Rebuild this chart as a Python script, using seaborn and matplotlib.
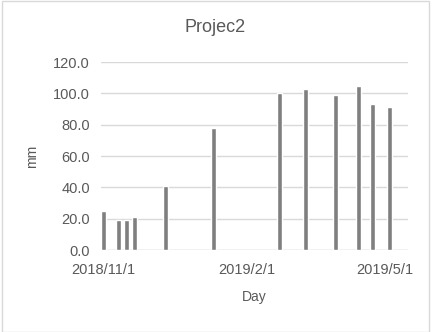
import matplotlib
matplotlib.use("Agg")
import matplotlib.pyplot as plt
import matplotlib.dates as mdates
import seaborn as sns
import pandas as pd
import datetime as dt

# Data
dates = ["2018-11-01", "2018-11-11", "2018-11-16", "2018-11-21", "2018-12-11",
         "2019-01-11", "2019-02-22", "2019-03-11", "2019-03-30", "2019-04-14",
         "2019-04-23", "2019-05-04"]
values = [25, 19, 19, 21, 41, 78, 100, 102.5, 99, 105, 93.5, 91.5]
y_ticks = [0, 20, 40, 60, 80, 100, 120]
x_tick_dates = ["2018-11-01", "2019-02-01", "2019-05-01"]

df = pd.DataFrame({"Day": mdates.date2num(pd.to_datetime(dates)), "mm": values})

sns.set_theme(style="white")
plt.rcParams["font.family"] = ["Liberation Sans", "DejaVu Sans"]

fig = plt.figure(figsize=(4.33, 3.32), dpi=100)
ax = fig.add_axes([101/433, 1 - 250/332, (408-101)/433, (250-62)/332])

sns.barplot(data=df, x="Day", y="mm", native_scale=True, color="#7f7f7f",
            saturation=1, width=0.62, ax=ax, errorbar=None)

x0 = mdates.date2num(dt.datetime(2018, 11, 1))
ax.set_xlim(x0 - 1.5, x0 + 195.7)
ax.set_ylim(0, 120)
ax.set_yticks(y_ticks)
ax.yaxis.set_major_formatter(matplotlib.ticker.FuncFormatter(lambda v, p: f"{v:.1f}"))
xt = mdates.date2num(pd.to_datetime(x_tick_dates))
ax.set_xticks(xt)
ax.set_xticklabels([f"{d.year}/{d.month}/{d.day}" for d in pd.to_datetime(x_tick_dates)])

ax.grid(axis="y", color="#d9d9d9", linewidth=1)
ax.set_axisbelow(True)
for s in ax.spines.values():
    s.set_visible(False)
ax.axhline(0, color="#d9d9d9", linewidth=1, zorder=0)
ax.tick_params(axis="y", length=0, labelsize=10.5, labelcolor="#595959", pad=8)
ax.tick_params(axis="x", length=0, labelsize=10.5, labelcolor="#595959", pad=9)

ax.set_xlabel("Day", fontsize=10, color="#595959", labelpad=10)
ax.set_ylabel("mm", fontsize=10, color="#595959", labelpad=10)
fig.text(215/433, 1 - 28/332, "Projec2", ha="center", va="center", fontsize=13, color="#595959")

fig.patches.append(matplotlib.patches.Rectangle((2/433, 0.5/332), 427/433, 1 - 1/332,
                   transform=fig.transFigure, fill=False, edgecolor="#d9d9d9", linewidth=1))

fig.savefig("out.png", dpi=100)
